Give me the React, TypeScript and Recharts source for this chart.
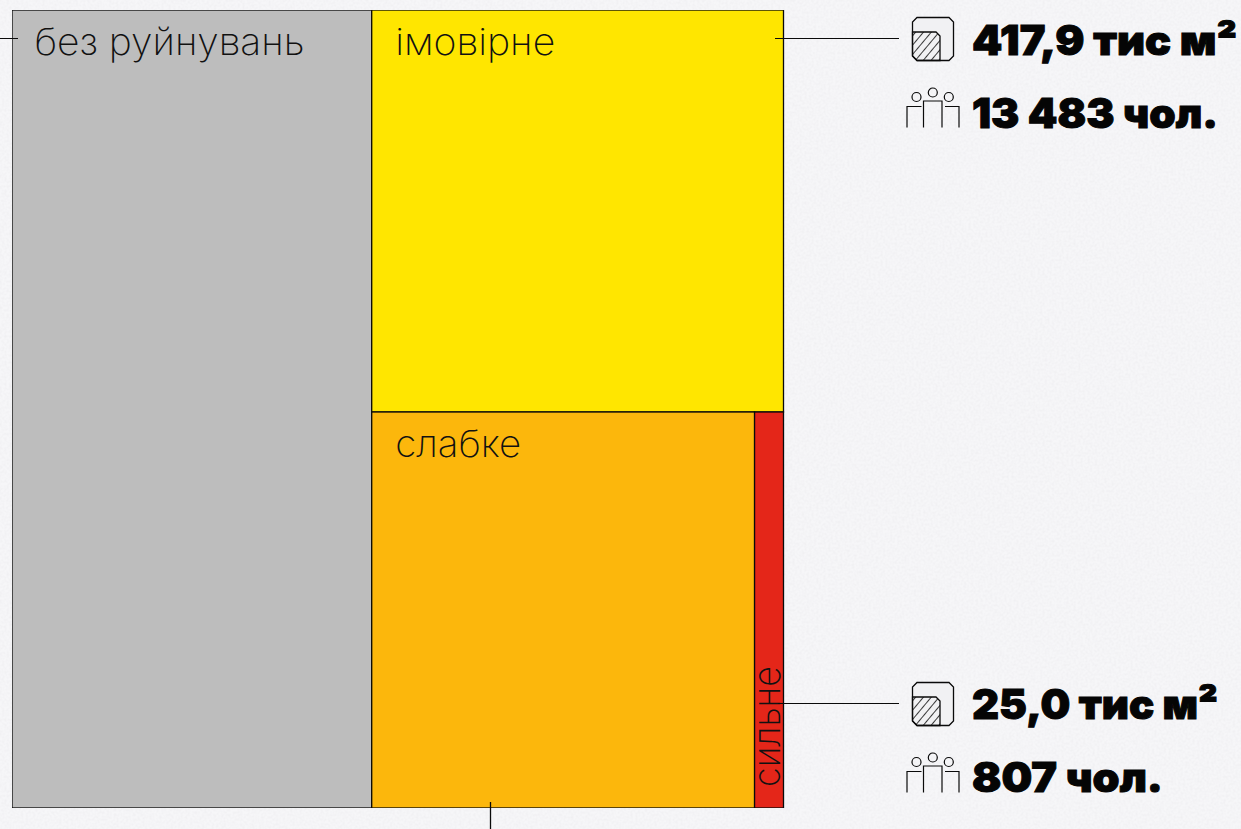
import { Treemap } from "recharts";

// rectangle areas (same units as the 417,9 label)
const categories = ["без руйнувань", "імовірне", "слабке", "сильне"];
const areas = [724, 417.9, 382.7, 29];
const colors = ["#bdbdbd", "#ffe600", "#fcb70c", "#e42619"];

const areaLabels = ["417,9 тис м²", "25,0 тис м²"];
const peopleLabels = ["13 483 чол.", "807 чол."];

const treeData = categories.map((name, i) => ({ name, size: areas[i], colorIndex: i }));

const CHART_W = 771.5;
const CHART_H = 798;
// squarify only starts with a left column when the box is wider than tall,
// so lay out a bit wider and squeeze x back in the cell renderer
const LAYOUT_W = 800;
const SX = CHART_W / LAYOUT_W;

const LIGHT = "Inter, 'Noto Sans', sans-serif";
const HEAVY = "Inter, 'Open Sans', sans-serif";
const INK = "#0a0a0a";

function Cell(props: any) {
  const { x, y, width, height, depth, name, colorIndex } = props;
  if (depth !== 1) return null;
  const left = x * SX;
  const w = width * SX;
  const vertical = w < 60;
  return (
    <g>
      <rect x={left} y={y} width={w} height={height} fill={colors[colorIndex]} stroke={INK} strokeWidth={1.3} />
      {vertical ? (
        <text
          transform={`translate(${left + w - 3.5},${y + height - 21}) rotate(-90)`}
          fontFamily={LIGHT}
          fontWeight={200}
          fontSize={37}
          fill="#111"
          textLength={121}
          lengthAdjust="spacingAndGlyphs"
        >
          {name}
        </text>
      ) : (
        <text
          x={left + (colorIndex === 0 ? 22.5 : 23.5)}
          y={y + 44.5}
          fontFamily={LIGHT}
          fontWeight={200}
          fontSize={37}
          fill="#111"
          textLength={colorIndex === 0 ? 270 : colorIndex === 1 ? 160 : 126}
          lengthAdjust="spacingAndGlyphs"
        >
          {name}
        </text>
      )}
    </g>
  );
}

function AreaIcon({ x, y, id }: { x: number; y: number; id: string }) {
  const body = "M5 0.5H37L41.5 5V39L37 43.5H5L0.5 39V5Z";
  return (
    <g transform={`translate(${x},${y})`} fill="none" stroke={INK} strokeWidth={1.3}>
      <defs>
        <pattern id={id} width="6" height="6" patternUnits="userSpaceOnUse" patternTransform="rotate(40)">
          <line x1="0" y1="0" x2="0" y2="6" stroke={INK} strokeWidth={1.6} />
        </pattern>
      </defs>
      <path d={body} fill="#f1f1f3" />
      <path d="M0.5 15H24L28 19V43.5H5L0.5 39Z" fill={`url(#${id})`} />
    </g>
  );
}

function PeopleIcon({ x, y }: { x: number; y: number }) {
  return (
    <g transform={`translate(${x},${y})`} fill="none" stroke={INK} strokeWidth={1.2}>
      <circle cx={10} cy={9.5} r={4.5} />
      <circle cx={26.3} cy={5} r={4.5} />
      <circle cx={42.3} cy={9.5} r={4.5} />
      <path d="M0.5 40V19H15" />
      <path d="M17 40V13.5H35.5V40" />
      <path d="M38.5 19H52.5V40" />
    </g>
  );
}

function Amount({ x, y, width, children }: { x: number; y: number; width: number; children: string }) {
  return (
    <text
      x={x}
      y={y}
      fontFamily={HEAVY}
      fontWeight={900}
      fontSize={41}
      fill="#050505"
      stroke="#050505"
      strokeWidth={1}
      textLength={width}
      lengthAdjust="spacingAndGlyphs"
    >
      {children}
    </text>
  );
}

export default function App() {
  return (
    <div style={{ position: "fixed", left: 0, top: 0, width: 1241, height: 829, overflow: "hidden", background: "#f6f6f8" }}>
      <svg width={1241} height={829} style={{ position: "absolute", left: 0, top: 0 }}>
        <filter id="paper">
          <feTurbulence type="fractalNoise" baseFrequency="0.42" numOctaves="1" seed="4" />
          <feColorMatrix values="0 0 0 0 0.6  0 0 0 0 0.58  0 0 0 0 0.62  0.7 0 0 0 -0.25" />
        </filter>
        <rect width={1241} height={829} filter="url(#paper)" opacity={0.4} />
      </svg>

      <div style={{ position: "absolute", left: 11.6, top: 10 }}>
        <Treemap
          width={LAYOUT_W}
          height={CHART_H}
          data={treeData}
          dataKey="size"
          nameKey="name"
          aspectRatio={0.5}
          type="flat"
          isAnimationActive={false}
          content={<Cell />}
        />
      </div>

      <svg width={1241} height={829} style={{ position: "absolute", left: 0, top: 0, pointerEvents: "none" }}>
        <g stroke={INK} strokeWidth={1}>
          <line x1={0} y1={38.5} x2={18} y2={38.5} />
          <line x1={775} y1={38.5} x2={899} y2={38.5} />
          <line x1={778} y1={703.5} x2={899} y2={703.5} />
          <line x1={490.5} y1={802} x2={490.5} y2={829} strokeWidth={1.3} />
        </g>

        <AreaIcon x={912} y={17} id="hatchTop" />
        <AreaIcon x={912} y={682} id="hatchBottom" />
        <PeopleIcon x={906.5} y={87.5} />
        <PeopleIcon x={906.5} y={752.5} />

        <Amount x={972} y={55} width={265}>{areaLabels[0]}</Amount>
        <Amount x={972} y={128} width={246}>{peopleLabels[0]}</Amount>
        <Amount x={972} y={719} width={246}>{areaLabels[1]}</Amount>
        <Amount x={972} y={792} width={191}>{peopleLabels[1]}</Amount>
      </svg>
    </div>
  );
}
